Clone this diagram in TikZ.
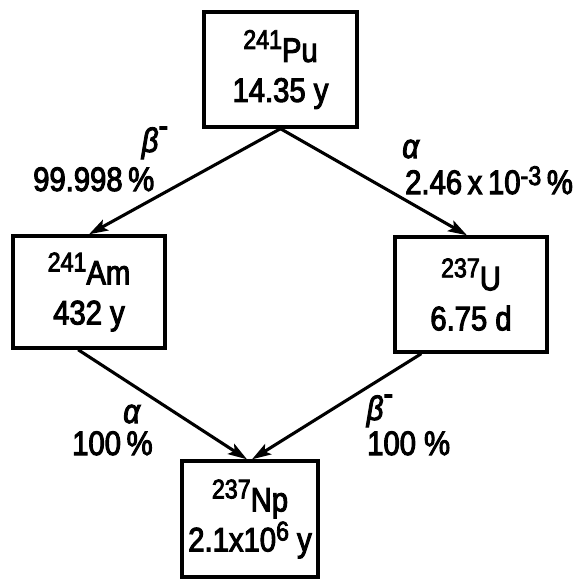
\documentclass[tikz,border=0pt]{standalone}
\usepackage{fontspec}
\setmainfont{Liberation Sans}[FakeStretch=0.86,FakeBold=3]
\usetikzlibrary{arrows.meta,calc}
\newcommand{\iso}[2]{\raisebox{13pt}{\fontsize{27}{27}\selectfont #1}#2}
\newcommand{\supr}[2]{\raisebox{#1}{\fontsize{27}{27}\selectfont #2}}
\begin{document}
\begin{tikzpicture}[x=1pt,y=-1pt,
  box/.style={draw,line width=3.4pt,align=center,inner sep=0pt,
    font=\fontsize{34}{40}\selectfont},
  arr/.style={line width=3.1pt,-{Stealth[length=19pt,width=12pt,inset=4pt]}},
  lbl/.style={inner sep=0pt,font=\fontsize{34}{40}\selectfont}]
\useasboundingbox (0,0) rectangle (580,579);
% boxes
\node[box,minimum width=153pt,minimum height=115pt] (pu) at (280.5,69.5) {\iso{241}{Pu}\\14.35 y};
\node[box,minimum width=152pt,minimum height=112pt] (am) at (89,292) {\iso{241}{Am}\\432 y};
\node[box,minimum width=152pt,minimum height=115pt] (u) at (471,294.5) {\iso{237}{U}\\6.75 d};
\node[box,minimum width=136pt,minimum height=116pt] (np) at (250,519) {\iso{237}{Np}\\2.1x10\supr{11pt}{6} y};
% arrows
\draw[arr] (pu.south) -- (am.north);
\draw[arr] (pu.south) -- ([xshift=-4pt]u.north);
\draw[arr] ($(am.south west)!0.43!(am.south east)$) -- ([xshift=-3pt]np.north);
\draw[arr] ($(u.south west)!0.18!(u.south east)$) -- ([xshift=2pt]np.north);
% labels
\node[lbl,anchor=base] (l1) at (155,152) {\textit{β}\raisebox{15pt}{-}};
\node[lbl,anchor=base west] (l2) at (33,191) {99.998\,\%};
\node[lbl,anchor=base] (l3) at (411,158) {\textit{α}};
\node[lbl,anchor=base west] (l4) at (405,194) {2.46\,x\,10\supr{9pt}{-3}\,\%};
\node[lbl,anchor=base] (l5) at (132,423) {\textit{α}};
\node[lbl,anchor=base west] (l6) at (72,455) {100\,\%};
\node[lbl,anchor=base] (l7) at (380,420) {\textit{β}\raisebox{15pt}{-}};
\node[lbl,anchor=base west] (l8) at (367,455) {100 \%};
\end{tikzpicture}
\end{document}
